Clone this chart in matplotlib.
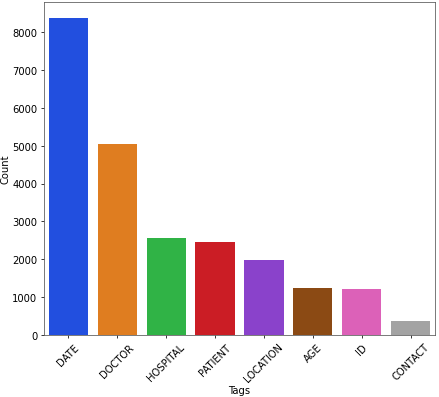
import matplotlib
matplotlib.use('Agg')
import matplotlib.pyplot as plt
import seaborn as sns
import pandas as pd

tags = ['DATE', 'DOCTOR', 'HOSPITAL', 'PATIENT', 'LOCATION', 'AGE', 'ID', 'CONTACT']
counts = [8370, 5045, 2565, 2455, 1990, 1240, 1222, 370]

df = pd.DataFrame({'Tags': tags, 'Count': counts})

plt.rcParams['font.size'] = 10.5

# larger canvas at low dpi so text comes out at the reference's small size
fig, ax = plt.subplots(figsize=(6.4, 5.8), dpi=68.6)
sns.barplot(data=df, x='Tags', y='Count', hue='Tags', palette='bright',
            legend=False, ax=ax)
ax.tick_params(axis='x', rotation=45)
ax.set_xlabel('Tags', labelpad=1)
ax.set_ylabel('Count', labelpad=2)
for s in ax.spines.values():
    s.set_color('#555555')
plt.subplots_adjust(left=0.10, right=0.991, top=0.992, bottom=0.156)
plt.savefig('out.png')
